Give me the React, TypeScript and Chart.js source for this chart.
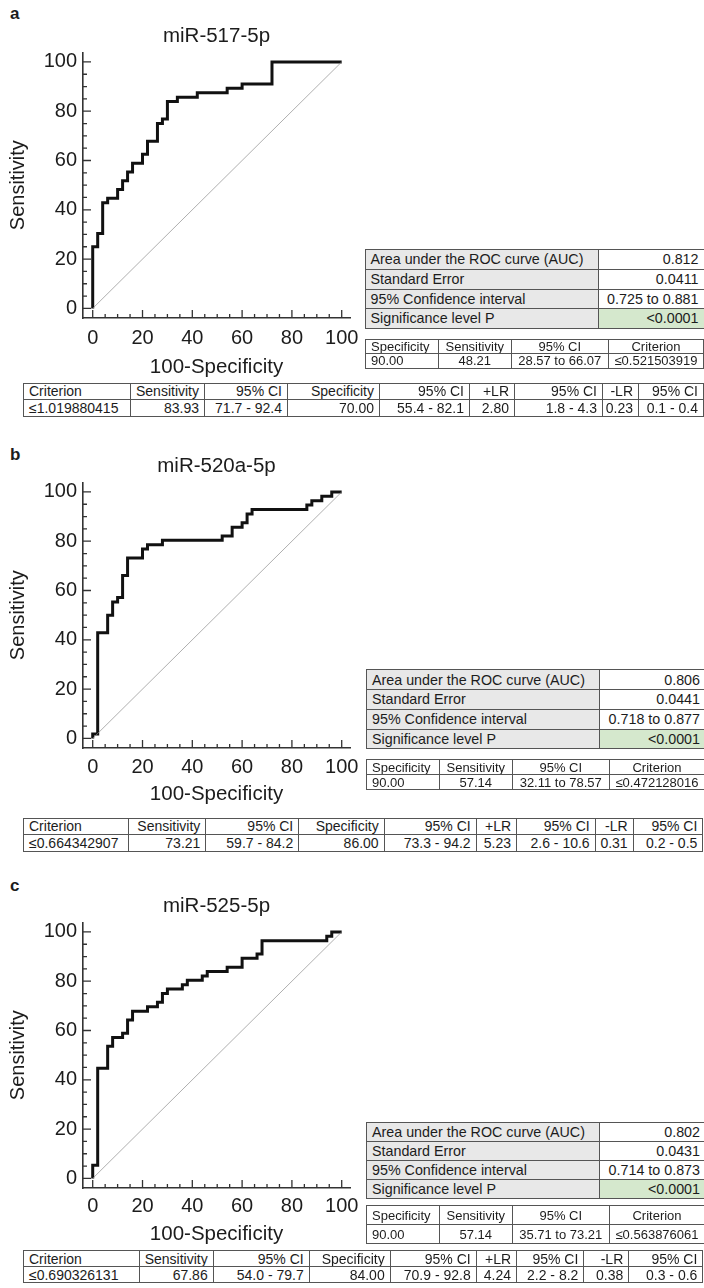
import React, { useEffect, useRef } from "react";
import { Chart, registerables } from "chart.js";

Chart.register(...registerables);

const FONT = "'Liberation Sans', Arial, Helvetica, sans-serif";
const INK = "#1c1c1c";

// ROC staircase points: from each point the curve rises first, then runs across to the next one
const fprA = [0, 2, 4, 6, 10, 12, 14, 16, 20, 22, 26, 28, 30, 34, 42, 54, 60, 72, 100];
const tprA = [0, 25.0, 30.36, 42.86, 44.64, 48.21, 51.79, 55.36, 58.93, 62.5, 67.86, 75.0, 76.79, 83.93, 85.71, 87.5, 89.29, 91.07, 100];

const fprB = [0, 2, 6, 8, 10, 12, 14, 20, 22, 28, 52, 56, 60, 62, 64, 86, 88, 92, 96, 100];
const tprB = [0, 1.79, 42.86, 50.0, 55.36, 57.14, 66.07, 73.21, 76.79, 78.57, 80.36, 82.14, 85.71, 87.5, 91.07, 92.86, 94.64, 96.43, 98.21, 100];

const fprC = [0, 2, 6, 8, 12, 14, 16, 22, 26, 28, 30, 36, 38, 44, 46, 54, 60, 66, 68, 94, 96, 100];
const tprC = [0, 5.36, 44.64, 53.57, 57.14, 58.93, 64.29, 67.86, 69.64, 71.43, 75.0, 76.79, 78.57, 80.36, 82.14, 83.93, 85.71, 89.29, 91.07, 96.43, 98.21, 100];

// Reference (chance) line
const diagX = [0, 100];
const diagY = [0, 100];

// Axis tick positions
const axisLabelTicks = [0, 20, 40, 60, 80, 100];
const axisMarkTicks = [0, 5, 10, 15, 20, 25, 30, 35, 40, 45, 50, 55, 60, 65, 70, 75, 80, 85, 90, 95, 100];

// Table texts
const aucLabels = ["Area under the ROC curve (AUC)", "Standard Error", "95% Confidence interval", "Significance level P"];
const aucA = ["0.812", "0.0411", "0.725 to 0.881", "<0.0001"];
const aucB = ["0.806", "0.0441", "0.718 to 0.877", "<0.0001"];
const aucC = ["0.802", "0.0431", "0.714 to 0.873", "<0.0001"];

const spec90Header = ["Specificity", "Sensitivity", "95% CI", "Criterion"];
const spec90A = ["90.00", "48.21", "28.57 to 66.07", "≤0.521503919"];
const spec90B = ["90.00", "57.14", "32.11 to 78.57", "≤0.472128016"];
const spec90C = ["90.00", "57.14", "35.71 to 73.21", "≤0.563876061"];

const criterionHeader = ["Criterion", "Sensitivity", "95% CI", "Specificity", "95% CI", "+LR", "95% CI", "-LR", "95% CI"];
const criterionA = ["≤1.019880415", "83.93", "71.7 - 92.4", "70.00", "55.4 - 82.1", "2.80", "1.8 - 4.3", "0.23", "0.1 - 0.4"];
const criterionB = ["≤0.664342907", "73.21", "59.7 - 84.2", "86.00", "73.3 - 94.2", "5.23", "2.6 - 10.6", "0.31", "0.2 - 0.5"];
const criterionC = ["≤0.690326131", "67.86", "54.0 - 79.7", "84.00", "70.9 - 92.8", "4.24", "2.2 - 8.2", "0.38", "0.3 - 0.6"];

// Inward tick marks along both axes
const innerTicks = {
  id: "innerTicks",
  afterDraw(chart: any) {
    const { ctx, chartArea, scales } = chart;
    const { left, bottom } = chartArea;
    ctx.save();
    ctx.strokeStyle = "#333";
    ctx.lineWidth = 1.3;
    ctx.beginPath();
    axisMarkTicks.forEach((v) => {
      const len = v % 20 === 0 ? 8 : 4;
      const px = scales.x.getPixelForValue(v);
      ctx.moveTo(px, bottom);
      ctx.lineTo(px, bottom - len);
      const py = scales.y.getPixelForValue(v);
      ctx.moveTo(left, py);
      ctx.lineTo(left + len, py);
    });
    ctx.stroke();
    ctx.restore();
  },
};

const PLOT_BOTTOM = 318;

type RocProps = { title: string; fpr: number[]; tpr: number[]; top: number; xBand: number; labelPad: number };

function RocChart({ title, fpr, tpr, top, xBand, labelPad }: RocProps) {
  const ref = useRef<HTMLCanvasElement>(null);
  const height = PLOT_BOTTOM + xBand;
  useEffect(() => {
    const setTicks = (s: any) => {
      s.ticks = axisLabelTicks.map((v) => ({ value: v }));
    };
    const chart = new Chart(ref.current as HTMLCanvasElement, {
      type: "scatter",
      data: {
        datasets: [
          {
            data: diagX.map((x, i) => ({ x, y: diagY[i] })),
            showLine: true,
            borderColor: "#8c8c8c",
            borderWidth: 0.7,
            pointRadius: 0,
          },
          {
            data: fpr.map((x, i) => ({ x, y: tpr[i] })),
            showLine: true,
            stepped: "after",
            borderColor: "#111",
            borderWidth: 3,
            pointRadius: 0,
            borderJoinStyle: "miter",
            borderCapStyle: "butt",
          },
        ],
      },
      options: {
        animation: false,
        responsive: false,
        events: [],
        layout: { padding: { left: 0, right: 25, top: 0, bottom: 0 } },
        plugins: {
          legend: { display: false },
          tooltip: { enabled: false },
          title: {
            display: true,
            text: title,
            fullSize: false,
            color: INK,
            font: { family: FONT, size: 20.5, weight: "normal" },
            padding: { top: 23.7, bottom: 4 },
          },
        },
        scales: {
          x: {
            type: "linear",
            min: -3.9,
            max: 103.33,
            afterBuildTicks: setTicks,
            afterFit: (s: any) => {
              s.height = xBand;
            },
            grid: { display: false, drawTicks: false },
            border: { display: true, color: "#333", width: 1.6 },
            ticks: { color: INK, font: { family: FONT, size: 20 }, padding: labelPad, autoSkip: false, maxRotation: 0 },
            title: {
              display: true,
              text: "100-Specificity",
              color: INK,
              font: { family: FONT, size: 20.5 },
              padding: { top: 0, bottom: 0 },
            },
          },
          y: {
            type: "linear",
            min: -3.9,
            max: 103.9,
            afterBuildTicks: setTicks,
            afterFit: (s: any) => {
              s.width = 83;
            },
            grid: { display: false, drawTicks: false },
            border: { display: true, color: "#333", width: 1.6 },
            ticks: { color: INK, font: { family: FONT, size: 20 }, padding: 6, autoSkip: false },
            title: {
              display: true,
              text: "Sensitivity",
              color: INK,
              font: { family: FONT, size: 20 },
              padding: { top: 6, bottom: 0 },
            },
          },
        },
      },
      plugins: [innerTicks],
    } as any);
    return () => chart.destroy();
  }, [title, fpr, tpr, xBand, labelPad]);
  return (
    <canvas
      ref={ref}
      width={375}
      height={height}
      style={{ position: "absolute", left: 0, top, width: 375, height }}
    />
  );
}

type GridProps = {
  left: number;
  top: number;
  cols: number[];
  rowH: number;
  fontSize: number;
  rows: string[][];
  align: ("left" | "center" | "right")[][];
  bg?: (string | null)[][];
};

function Grid({ left, top, cols, rowH, fontSize, rows, align, bg }: GridProps) {
  const justify = { left: "flex-start", center: "center", right: "flex-end" };
  return (
    <div
      style={{
        position: "absolute",
        left,
        top,
        display: "grid",
        gridTemplateColumns: cols.map((c) => `${c}px`).join(" "),
        gridAutoRows: `${rowH}px`,
        borderLeft: "1px solid #555",
        borderTop: "1px solid #555",
        fontFamily: FONT,
        fontSize,
        color: INK,
        background: "#fff",
      }}
    >
      {rows.map((r, ri) =>
        r.map((txt, ci) => (
          <div
            key={`${ri}-${ci}`}
            style={{
              boxSizing: "border-box",
              borderRight: "1px solid #555",
              borderBottom: "1px solid #555",
              display: "flex",
              alignItems: "center",
              justifyContent: justify[align[ri][ci]],
              padding: "0 5px",
              whiteSpace: "nowrap",
              overflow: "hidden",
              background: (bg && bg[ri][ci]) || "transparent",
              lineHeight: 1,
            }}
          >
            {txt}
          </div>
        ))
      )}
    </div>
  );
}

const GRAY = "#e8e8e8";
const GREEN = "#d5e8cd";

function AucTable({ left, top, values, rowH }: { left: number; top: number; values: string[]; rowH: number }) {
  return (
    <Grid
      left={left}
      top={top}
      cols={[233, 106]}
      rowH={rowH}
      fontSize={14.3}
      rows={aucLabels.map((l, i) => [l, values[i]])}
      align={aucLabels.map(() => ["left", "right"])}
      bg={aucLabels.map((_, i) => [GRAY, i === 3 ? GREEN : null])}
    />
  );
}

function Spec90Table({ left, top, values, rowH }: { left: number; top: number; values: string[]; rowH: number }) {
  return (
    <Grid
      left={left}
      top={top}
      cols={[73, 72.5, 97.5, 95]}
      rowH={rowH}
      fontSize={13}
      rows={[spec90Header, values]}
      align={[
        ["left", "center", "center", "center"],
        ["left", "center", "center", "center"],
      ]}
    />
  );
}

function CriterionTable({ left, top, values, cols, rowH }: { left: number; top: number; values: string[]; cols: number[]; rowH: number }) {
  const al = criterionHeader.map((_, i) => (i === 0 ? "left" : "right")) as ("left" | "right")[];
  return (
    <Grid left={left} top={top} cols={cols} rowH={rowH} fontSize={14} rows={[criterionHeader, values]} align={[al, al]} />
  );
}

function PanelLetter({ ch, top }: { ch: string; top: number }) {
  return (
    <div style={{ position: "absolute", left: 10, top, fontFamily: FONT, fontWeight: "bold", fontSize: 17, color: INK, lineHeight: 1 }}>
      {ch}
    </div>
  );
}

export default function App() {
  return (
    <div style={{ position: "fixed", left: 0, top: 0, width: 704, height: 1288, background: "#fff", overflow: "hidden" }}>
      <PanelLetter ch="a" top={5} />
      <RocChart title="miR-517-5p" fpr={fprA} tpr={tprA} top={0} xBand={62} labelPad={8.5} />
      <AucTable left={364.5} top={249} values={aucA} rowH={19.75} />
      <Spec90Table left={365} top={338.5} values={spec90A} rowH={14.6} />
      <CriterionTable left={23} top={382.5} values={criterionA} cols={[107, 74, 83, 92, 90, 45, 88, 36, 65]} rowH={16.5} />

      <PanelLetter ch="b" top={446} />
      <RocChart title="miR-520a-5p" fpr={fprB} tpr={tprB} top={430} xBand={59} labelPad={7.5} />
      <AucTable left={366} top={669.3} values={aucB} rowH={19.75} />
      <Spec90Table left={366} top={759} values={spec90B} rowH={15} />
      <CriterionTable left={23} top={817.5} values={criterionB} cols={[104.7, 77.7, 92.9, 85.4, 92, 40.4, 78.6, 38, 69.7]} rowH={16.5} />

      <PanelLetter ch="c" top={877} />
      <RocChart title="miR-525-5p" fpr={fprC} tpr={tprC} top={870} xBand={59} labelPad={6} />
      <AucTable left={366} top={1121.7} values={aucC} rowH={19.2} />
      <Spec90Table left={366} top={1205} values={spec90C} rowH={19} />
      <CriterionTable left={23} top={1250} values={criterionC} cols={[115.7, 74, 96, 81, 86, 40.4, 67.3, 44.9, 74.1]} rowH={16} />
    </div>
  );
}
